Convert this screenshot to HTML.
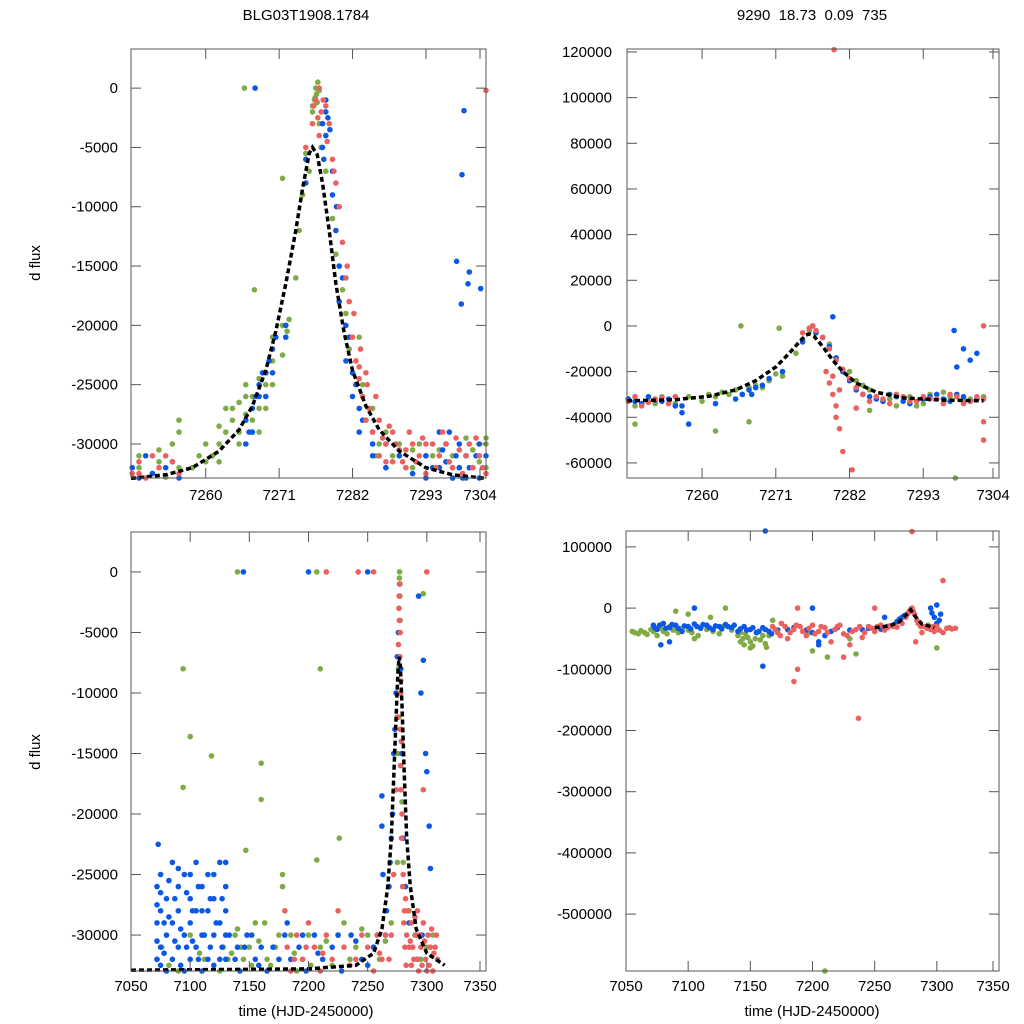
<!DOCTYPE html>
<html><head><meta charset="utf-8"><style>
body{margin:0;background:#fff;}
svg{display:block;font-family:"Liberation Sans",Arial,sans-serif;}
</style></head><body>
<svg id="chart" width="1024" height="1024" viewBox="0 0 1024 1024" xmlns="http://www.w3.org/2000/svg">
<rect width="1024" height="1024" fill="#fff"/>
<text x="306" y="20" font-size="15" text-anchor="middle">BLG03T1908.1784</text>
<text x="812" y="20" font-size="15" text-anchor="middle" xml:space="preserve">9290  18.73  0.09  735</text>
<text transform="translate(40,263) rotate(-90)" font-size="15" text-anchor="middle">d flux</text>
<text transform="translate(40,752) rotate(-90)" font-size="15" text-anchor="middle">d flux</text>
<text x="306" y="1016" font-size="15" text-anchor="middle">time (HJD-2450000)</text>
<text x="812" y="1016" font-size="15" text-anchor="middle">time (HJD-2450000)</text>
</svg>
<script>
// ---- data (flux in thousands) ----
const zoomXTicks=[7260,7271,7282,7293,7304];
const fullXTicks=[7050,7100,7150,7200,7250,7300,7350];
const p1YTicks=[0,-5,-10,-15,-20,-25,-30];
const p2YTicks=[120,100,80,60,40,20,0,-20,-40,-60];
const p3YTicks=[0,-5,-10,-15,-20,-25,-30];
const p4YTicks=[100,0,-100,-200,-300,-400,-500];

const p1Model=[[7248.8,-32.9],[7254,-32.6],[7258,-32],[7262,-30.6],[7265,-28.8],[7267,-26.8],[7269,-23.8],[7270.5,-20.5],[7272,-16.5],[7273.5,-12],[7274.5,-8.5],[7275.5,-5.5],[7276,-5],[7276.7,-5.6],[7277.5,-8],[7278.5,-12],[7279.5,-16.5],[7280.7,-20.5],[7282,-23.8],[7284,-26.8],[7286,-28.8],[7289,-30.6],[7293,-32],[7297,-32.6],[7302,-32.9]];
const p1Green=[[7250,-32],[7250,-31],[7252,-32.5],[7253,-31.5],[7255,-30],[7256,-29],[7256,-32],[7260,-31.5],[7260,-30],[7262,-30],[7262,-28.5],[7263,-29],[7263,-27],[7264,-28],[7265,-26.5],[7265,-30],[7266,-25],[7266,-27.5],[7267,-26],[7268,-24.5],[7268,-29],[7269,-24],[7269,-27],[7270,-23],[7270,-25],[7271.5,-22.5],[7271.5,-20],[7272,-21],[7272.2,-20.5],[7272.5,-19.5],[7273.5,-16],[7274,-12],[7274.5,-9],[7275,-5.5],[7275.5,-7],[7276,-2],[7276.3,-1],[7276.5,0],[7276.8,0.5],[7276.6,-0.5],[7277,-3],[7277.3,-5],[7278,-7],[7279,-11],[7279.5,-14],[7280.5,-17],[7281,-19],[7281.5,-22],[7283,-21],[7283.5,-25],[7285,-27],[7285,-29],[7285.5,-31],[7287,-29],[7287,-32],[7289,-30],[7289,-31],[7291,-30.5],[7291,-32],[7293,-31],[7295,-32],[7295,-30.5],[7297,-31],[7297,-33],[7299,-29.5],[7299,-31],[7302,-30],[7302,-32],[7265.8,0],[7267.3,-17],[7271.5,-7.6],[7258,-32],[7261,-31],[7253,-30.5],[7254,-32.8],[7256,-28],[7259,-31],[7262,-31.5],[7264,-27],[7265,-29],[7266,-26],[7267,-28],[7268,-27],[7269,-25],[7270,-21],[7272,-20],[7276,-1.5],[7276.4,-0.8],[7276.7,-1.2],[7277,-0.2],[7284,-28],[7286,-30],[7288,-31],[7290,-32],[7292,-30],[7294,-31],[7296,-31.5],[7298,-32],[7300,-30.5],[7301,-31.5],[7303,-29.5]];
const p1Red=[[7249,-32.5],[7250,-31.5],[7251,-33],[7253,-32],[7254,-31],[7256,-32.5],[7275,-5],[7276,-3],[7276.5,-1],[7277,0],[7277.3,-2],[7277,-4],[7278,-1.5],[7278.5,-3],[7279,-6],[7279.5,-8],[7280,-10],[7280.5,-13],[7281,-16],[7281.5,-18],[7282,-21],[7282.5,-23],[7283,-24.5],[7283.5,-26],[7284,-28],[7284.5,-27],[7285,-29],[7286,-31],[7286,-28],[7287,-30],[7288,-31.5],[7288,-29],[7289,-30.5],[7290,-32],[7291,-30],[7292,-31],[7293,-32.5],[7293,-30],[7295,-31],[7296,-30],[7297,-32],[7298,-30.5],[7299,-31],[7300,-32],[7301,-31],[7302,-32.5],[7283,-23.5],[7284,-24],[7302,-0.2],[7287,-31.5],[7290,-30.5],[7250,-32.5],[7252,-31],[7255,-31.5],[7276.2,-1.5],[7276.8,-2.5],[7277.6,-1],[7278.2,-4.5],[7279.2,-7],[7281.2,-15],[7282.2,-19],[7283.2,-22],[7284.2,-25],[7285.5,-26],[7286.5,-29.5],[7287.5,-28.5],[7288.5,-30],[7289.5,-31.5],[7290.5,-29],[7291.5,-31.5],[7292.5,-29.5],[7294,-30],[7294.5,-32],[7295.5,-29],[7296.5,-31.5],[7297.5,-29.5],[7298.5,-32.5],[7299.5,-30],[7300.5,-29.5],[7301.5,-32]];
const p1Blue=[[7249,-32],[7250,-33],[7251,-31],[7252,-32.5],[7254,-32],[7255,-31.5],[7256,-33],[7266,-30],[7266,-28],[7267,-29],[7267,-27],[7268,-26],[7268,-25],[7269,-26],[7269,-24],[7270,-24],[7270,-22],[7272,-21],[7272,-20],[7275,-8],[7275,-6],[7277.5,-3],[7277.5,-5],[7277.7,-6],[7278,-2],[7278,-1],[7278,-4],[7279,-7],[7279,-9],[7279.5,-12],[7280,-15],[7280,-18],[7281,-20],[7281,-23],[7282,-24],[7282,-26],[7283,-27],[7283,-29],[7285,-30],[7285,-31],[7287,-32],[7287,-30],[7289,-31],[7291,-32.5],[7293,-31],[7293,-33],[7295,-29],[7295,-32],[7296,-30],[7296,-31.5],[7297,-32],[7297,-33],[7298,-30],[7298,-32],[7299,-31],[7299,-33],[7300,-32],[7301,-30],[7301,-33],[7267.4,0],[7298.7,-1.9],[7298.4,-7.3],[7297.6,-14.6],[7298.3,-18.2],[7299.3,-16.5],[7301.2,-16.9],[7299.5,-15.5],[7266.5,-29],[7267.5,-26],[7268.5,-24],[7269.5,-23],[7270.5,-21],[7278.3,-2.5],[7278.6,-3.5],[7279.6,-10],[7280.5,-16],[7281.5,-21],[7282.5,-25],[7283.5,-28],[7294,-32],[7295.5,-30.5],[7296.5,-29],[7297.5,-31],[7298.5,-33],[7299.5,-32],[7300.5,-31],[7301.5,-32],[7302,-31]];

const p2Model=[[7248.8,-32.8],[7256,-32.3],[7261,-30.8],[7265,-28],[7268,-24],[7271,-18],[7273,-12],[7274.5,-7],[7275.5,-4],[7276,-3.5],[7276.7,-4.5],[7278,-9],[7279.5,-15],[7281,-20],[7283,-25],[7286,-29],[7290,-31.5],[7296,-32.5],[7302,-32.8]];
const p2Green=[[7249,-32],[7250,-35],[7250,-43],[7252,-33],[7254,-31],[7256,-34],[7260,-33],[7262,-31],[7262,-46],[7264,-30],[7265,-28],[7266,-30],[7268,-26],[7269,-27],[7270,-24],[7272,-22],[7274,-12],[7275,-6],[7276,-2],[7276.5,0],[7277,-3],[7279,-8],[7280,-14],[7282,-20],[7283,-24],[7285,-28],[7287,-33],[7289,-35],[7292,-35],[7294,-30],[7296,-29],[7299,-33],[7302,-31],[7265.8,0],[7297.8,-67],[7271.5,-1],[7267,-42],[7285,-37],[7253,-34],[7258,-31],[7261,-30],[7263,-29],[7267,-27],[7271,-21],[7284,-26],[7288,-32],[7291,-31],[7293,-34],[7297,-31],[7300,-32]];
const p2Red=[[7249,-33],[7250,-31],[7251,-35],[7253,-32],[7255,-34],[7256,-31],[7275,-3],[7276,-1],[7276.5,0],[7277,-2],[7278,-5],[7279,-10],[7279,-25],[7279.5,-30],[7280,-35],[7280,-40],[7280.5,-45],[7281,-55],[7282.4,-63],[7280,-15],[7281,-19],[7282,-23],[7283,-27],[7284,-30],[7285,-33],[7286,-31],[7288,-34],[7290,-31],[7292,-33],[7294,-32],[7296,-34],[7298,-31],[7300,-33],[7302,-32],[7279.7,121],[7302,0],[7302,-42],[7302,-50],[7283,-36],[7252,-33.5],[7254,-31.5],[7278.5,-20],[7279.5,-22],[7280.5,-28],[7287,-32],[7289,-30],[7291,-33],[7293,-31],[7295,-32],[7297,-30],[7299,-34],[7301,-31]];
const p2Blue=[[7249,-32],[7250,-33],[7251,-34],[7252,-31],[7254,-33],[7255,-32],[7256,-35],[7257,-38],[7266,-30],[7268,-27],[7269,-26],[7270,-23],[7272,-20],[7275,-7],[7277,-3],[7278,-5],[7279,-9],[7280,-14],[7281,-20],[7282,-24],[7283,-28],[7285,-31],[7287,-33],[7289,-31],[7291,-34],[7293,-32],[7295,-30],[7297,-33],[7299,-31],[7301,-32],[7279.5,4],[7297.6,-2],[7299,-10],[7300,-15],[7301,-12],[7298,-18],[7267.4,-30],[7258,-43],[7253,-32.5],[7257,-35],[7262,-34],[7265,-32],[7267,-28],[7284,-30],[7286,-32],[7288,-30],[7290,-33],[7294,-31],[7296,-32],[7298,-30],[7300,-33]];

const p3Model=[[7050,-32.9],[7200,-32.8],[7240,-32.5],[7255,-31.5],[7262,-29.5],[7267,-26],[7270,-22],[7272,-17],[7274,-12],[7275.5,-8.5],[7276.5,-7],[7277.5,-7.5],[7279,-11],[7281,-17],[7283,-22],[7286,-26],[7291,-29.5],[7300,-31.5],[7315,-32.5]];
const p3Green=[[7140,0],[7207,0],[7094,-8],[7100,-13.6],[7094,-17.8],[7118,-15.2],[7160,-15.8],[7160,-18.8],[7210,-8],[7207,-23.8],[7226,-22],[7178,-25],[7178,-26],[7147,-23],[7297,-1.8],[7072,-32],[7076,-31],[7090,-33],[7112,-32],[7135,-31.5],[7138,-30],[7145,-32],[7150,-31],[7155,-29],[7165,-32],[7172,-31],[7185,-30],[7195,-32],[7210,-31],[7225,-30],[7235,-32],[7245,-29.5],[7255,-31],[7275,-24],[7275.5,-15],[7276,-8],[7276.5,-3],[7277,0],[7277.3,-1],[7277.5,-4],[7278,-10],[7279,-19],[7280,-24],[7285,-28],[7290,-30],[7295,-32],[7300,-31],[7305,-30],[7270,-29],[7100,-30],[7125,-33],[7128,-31],[7190,-33],[7200,-30],[7140,-29.5],[7143,-31],[7152,-32.5],[7158,-30.5],[7163,-29],[7168,-32.5],[7175,-30],[7188,-31.5],[7202,-32.5],[7215,-30.5],[7220,-32.5],[7230,-29],[7240,-31],[7250,-30],[7260,-32],[7265,-30.5],[7276.8,-0.5],[7277.2,-2],[7276.3,-5],[7276.2,-12],[7278.5,-14],[7082,-32.5],[7108,-31.5],[7132,-32]];
const p3Red=[[7215,0],[7242,0],[7255,0],[7300,0],[7297,-18],[7180,-28],[7182,-31],[7185,-33],[7190,-30],[7195,-32],[7200,-29],[7205,-31],[7210,-33],[7215,-30],[7220,-32],[7225,-28],[7230,-31],[7240,-32],[7250,-31],[7255,-33],[7258,-30],[7262,-32],[7270,-30],[7272,-25],[7274,-18],[7275,-12],[7276,-6],[7276.5,-3],[7277,-1],[7277.5,-5],[7278,-9],[7278.5,-14],[7279,-20],[7280,-25],[7281,-28],[7283,-30],[7285,-31],[7287,-29],[7289,-32],[7291,-30],[7293,-33],[7295,-31],[7297,-29],[7299,-32],[7301,-30],[7303,-31],[7305,-33],[7307,-31],[7309,-32],[7287,-32.5],[7292,-28],[7300,-33],[7282,-27],[7276.6,-2],[7276.8,-4],[7277.2,-7],[7277.4,-10],[7277.6,-13],[7277.8,-16],[7278.2,-18],[7278.6,-22],[7279.5,-26],[7280.5,-29],[7281.5,-31],[7282.5,-32.5],[7284,-28],[7286,-30.5],[7288,-31],[7290,-28.5],[7292,-32],[7294,-30],[7296,-32.5],[7298,-30.5],[7302,-32.5],[7304,-29.5],[7306,-31.5],[7308,-30],[7260,-31.5],[7265,-30],[7268,-32],[7245,-30],[7235,-32.5],[7212,-31.5],[7198,-31],[7188,-32]];
const p3Blue=[[7145,0],[7200,0],[7250,0],[7293,-2],[7297,-7.3],[7295,-10],[7299,-15],[7300,-16.5],[7302,-21],[7303,-24.5],[7073,-22.5],[7262,-18.5],[7262,-21],[7263,-25],[7072,-26],[7072,-29],[7072,-32],[7075,-25],[7075,-28],[7075,-31],[7080,-27],[7080,-30],[7080,-33],[7085,-24],[7085,-29],[7085,-32],[7090,-26],[7090,-28],[7090,-31],[7095,-25],[7095,-30],[7095,-33],[7100,-27],[7100,-29],[7100,-32],[7105,-24],[7105,-28],[7105,-31],[7110,-26],[7110,-30],[7110,-33],[7115,-25],[7115,-28],[7115,-32],[7120,-27],[7120,-30],[7125,-24],[7125,-29],[7125,-32],[7130,-26],[7130,-30],[7130,-32],[7140,-31],[7142,-33],[7148,-30],[7155,-32],[7160,-31],[7165,-33],[7170,-31],[7180,-30],[7185,-32],[7192,-31],[7198,-33],[7205,-30],[7212,-32],[7220,-31],[7228,-33],[7236,-30],[7245,-32],[7255,-31],[7265,-30],[7268,-26],[7270,-22],[7272,-15],[7274,-10],[7276,-5],[7277,-1],[7278,-8],[7279,-15],[7280,-22],[7282,-26],[7285,-29],[7288,-31],[7292,-32],[7296,-30],[7072,-27.5],[7072,-30.5],[7075,-26.5],[7075,-32.5],[7078,-29],[7078,-31.5],[7082,-25.5],[7082,-28.5],[7087,-27],[7087,-30.5],[7090,-24.5],[7092,-29.5],[7092,-32.5],[7097,-26.5],[7097,-31],[7100,-25],[7102,-28],[7102,-30.5],[7107,-26],[7107,-32],[7110,-28],[7112,-30],[7117,-27],[7117,-31],[7120,-25],[7120,-32.5],[7122,-29],[7127,-27],[7127,-31],[7130,-24],[7130,-28],[7133,-30],[7138,-32],[7146,-31],[7152,-30],[7158,-32.5],[7175,-32],[7182,-29],[7195,-30],[7208,-31.5],[7225,-30],[7240,-30.5],[7250,-32.5],[7266,-28],[7269,-24],[7271,-20],[7273,-13],[7275,-7]];

const p4Model=[[7250,-32],[7262,-29],[7270,-22],[7276,-10],[7279,-3],[7282,-12],[7288,-26],[7298,-32]];
const p4Green=[[7210,-593],[7200,-70],[7055,-38],[7060,-42],[7065,-40],[7070,-35],[7075,-45],[7080,-38],[7085,-30],[7092,-40],[7100,-36],[7105,-50],[7110,-32],[7120,-38],[7128,-30],[7140,-45],[7142,-55],[7145,-60],[7148,-48],[7152,-62],[7155,-40],[7158,-52],[7162,-58],[7165,-45],[7142,-40],[7150,-55],[7100,-10],[7118,-15],[7130,0],[7168,-20],[7198,-40],[7212,-80],[7230,-50],[7235,-75],[7255,-35],[7270,-20],[7300,-65],[7293,-28],[7090,-5],[7057,-40],[7062,-37],[7067,-43],[7072,-38],[7078,-33],[7083,-42],[7088,-36],[7095,-33],[7103,-40],[7108,-45],[7115,-35],[7125,-42],[7135,-36],[7144,-50],[7146,-42],[7150,-65],[7154,-50],[7160,-45],[7163,-64]];
const p4Red=[[7280,125],[7237,-180],[7185,-120],[7188,-100],[7225,-80],[7305,45],[7168,-30],[7172,-40],[7175,-25],[7180,-50],[7185,-35],[7190,-30],[7195,-45],[7200,-28],[7205,-38],[7210,-32],[7215,-55],[7220,-30],[7225,-42],[7230,-60],[7235,-35],[7240,-48],[7245,-30],[7250,-38],[7255,-28],[7260,-32],[7265,-30],[7275,-15],[7278,-5],[7280,0],[7282,-10],[7285,-25],[7288,-40],[7290,-30],[7295,-35],[7300,-30],[7305,-40],[7310,-32],[7315,-33],[7188,0],[7250,0],[7283,-55],[7298,-38],[7170,-35],[7174,-45],[7178,-30],[7182,-40],[7187,-28],[7192,-38],[7197,-33],[7202,-42],[7207,-30],[7212,-40],[7218,-35],[7222,-28],[7228,-45],[7232,-38],[7238,-30],[7242,-40],[7248,-33],[7252,-30],[7258,-36],[7262,-29],[7268,-31],[7272,-25],[7277,-8],[7279,-2],[7281,-5],[7284,-20],[7287,-30],[7292,-33],[7297,-30],[7302,-36],[7308,-33],[7312,-34]];
const p4Blue=[[7162,128],[7160,-95],[7300,5],[7295,0],[7205,-60],[7072,-28],[7075,-35],[7080,-25],[7085,-32],[7090,-28],[7095,-38],[7100,-30],[7105,-26],[7110,-33],[7115,-28],[7120,-35],[7125,-30],[7130,-27],[7135,-32],[7140,-38],[7145,-30],[7150,-35],[7155,-40],[7160,-32],[7165,-38],[7180,-35],[7200,-40],[7205,-55],[7210,-45],[7220,-32],[7240,-35],[7250,-38],[7260,-30],[7268,-22],[7272,-15],[7276,-10],[7200,0],[7258,-15],[7298,-15],[7300,-25],[7303,-10],[7105,0],[7085,-55],[7078,-60],[7073,-32],[7077,-28],[7082,-33],[7087,-27],[7092,-33],[7097,-29],[7102,-34],[7107,-30],[7112,-27],[7117,-32],[7122,-29],[7127,-34],[7132,-30],[7137,-28],[7142,-34],[7147,-36],[7152,-32],[7157,-38],[7162,-35],[7167,-42],[7172,-36],[7185,-32],[7195,-36],[7215,-38],[7230,-36],[7245,-33],[7255,-34],[7265,-28],[7270,-18],[7274,-12],[7296,-8],[7302,-20]];

const panels=[
 {n:'top-left',x0:131,x1:486,y0:49,y1:478,xd:[7248.8,7302],yd:[3.3,-32.87],xt:zoomXTicks,yt:p1YTicks,m:p1Model,g:p1Green,r:p1Red,b:p1Blue,ly:500,yl:118},
 {n:'top-right',x0:627,x1:999,y0:49,y1:478,xd:[7248.8,7304.3],yd:[121.3,-66.6],xt:zoomXTicks,yt:p2YTicks,m:p2Model,g:p2Green,r:p2Red,b:p2Blue,ly:500,yl:612},
 {n:'bottom-left',x0:131,x1:486,y0:532,y1:971,xd:[7050,7350],yd:[3.3,-32.97],xt:fullXTicks,yt:p3YTicks,m:p3Model,g:p3Green,r:p3Red,b:p3Blue,ly:991,yl:118},
 {n:'bottom-right',x0:626,x1:999,y0:531,y1:971,xd:[7050,7350],yd:[126,-593],xt:fullXTicks,yt:p4YTicks,m:p4Model,g:p4Green,r:p4Red,b:p4Blue,ly:991,yl:612}
];
const NS='http://www.w3.org/2000/svg';
const svg=document.getElementById('chart');
function mk(tag,at,parent){const e=document.createElementNS(NS,tag);for(const k in at)e.setAttribute(k,at[k]);(parent||svg).appendChild(e);return e;}
panels.forEach(p=>{
 const g=mk('g',{});
 
 
 const sx=v=>p.x0+(v-p.xd[0])/(p.xd[1]-p.xd[0])*(p.x1-p.x0);
 const sy=v=>p.y0+(v-p.yd[0])/(p.yd[1]-p.yd[0])*(p.y1-p.y0);
 const cx=v=>Math.max(p.x0,Math.min(p.x1,sx(v)));
 const cy=v=>Math.max(p.y0,Math.min(p.y1,sy(v)));
 const series=[['green',p.g,'#7faa45'],['blue',p.b,'#0b57e6'],['red',p.r,'#ec6060']];
 series.forEach(s=>{
  const sg=mk('g',{fill:s[2]},g);
  
  
  s[1].forEach(d=>{
   const c=mk('circle',{cx:cx(d[0]).toFixed(1),cy:cy(d[1]).toFixed(1),r:2.8},sg);
   
   
  });
 });
 const path=mk('path',{d:p.m.map((d,i)=>(i?'L':'M')+sx(d[0]).toFixed(1)+','+sy(d[1]).toFixed(1)).join(''),fill:'none',stroke:'#000','stroke-width':3.5,'stroke-dasharray':'5,3'},g);
 
 
 const fr=mk('rect',{x:p.x0,y:p.y0,width:p.x1-p.x0,height:p.y1-p.y0,fill:'none',stroke:'#555','stroke-width':1},g);
 
 
 p.xt.forEach(v=>{
  const x=Math.min(p.x1-6,sx(v));
  const t1=mk('line',{x1:x,x2:x,y1:p.y1,y2:p.y1-10,stroke:'#555'},g);
  
  
  const t2=mk('line',{x1:x,x2:x,y1:p.y0,y2:p.y0+10,stroke:'#555'},g);
  
  
  const lb=mk('text',{x:x,y:p.ly,'font-size':15,'text-anchor':'middle'},g);
  lb.textContent=v;
  
  
 });
 p.yt.forEach(v=>{
  const y=sy(v);
  const t1=mk('line',{x1:p.x0,x2:p.x0+10,y1:y,y2:y,stroke:'#555'},g);
  
  
  const t2=mk('line',{x1:p.x1,x2:p.x1-10,y1:y,y2:y,stroke:'#555'},g);
  
  
  const lb=mk('text',{x:p.yl,y:y+5,'font-size':15,'text-anchor':'end'},g);
  lb.textContent=String(Math.round(v*1000));
  
  
 });
});
</script>
</body></html>
